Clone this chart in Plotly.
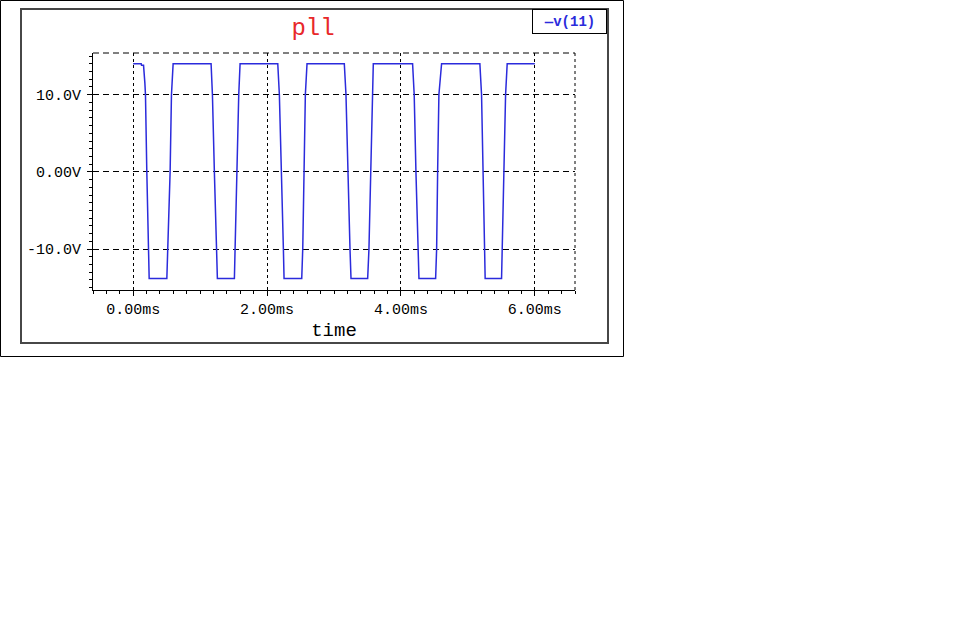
import plotly.graph_objects as go

# ---- data (time in ms, voltage in V) ----
series_name = "v(11)"
chart_title = "pll"
x_title = "time"

time_ms = [0.0, 0.12, 0.125, 0.155, 0.175, 0.184, 0.204, 0.224, 0.239,
           0.503, 0.518, 0.552, 0.572, 0.597,
           1.164, 1.184, 1.213, 1.243, 1.258,
           1.512, 1.522, 1.557, 1.577, 1.597,
           2.160, 2.184, 2.219, 2.244, 2.254,
           2.518, 2.533, 2.552, 2.572, 2.597,
           3.154, 3.179, 3.204, 3.239, 3.254,
           3.503, 3.522, 3.548, 3.567, 3.587,
           4.174, 4.198, 4.224, 4.254, 4.269,
           4.518, 4.533, 4.548, 4.567, 4.607,
           5.179, 5.204, 5.229, 5.244, 5.258,
           5.503, 5.513, 5.537, 5.563, 5.587,
           6.0]
voltage = [14.0, 14.0, 13.8, 13.8, 11.5, 10.0, 0.0, -10.0, -13.8,
           -13.8, -10.0, 0.0, 10.0, 14.0,
           14.0, 10.0, 0.0, -10.0, -13.8,
           -13.8, -10.0, 0.0, 10.0, 14.0,
           14.0, 10.0, 0.0, -10.0, -13.8,
           -13.8, -10.0, 0.0, 10.0, 14.0,
           14.0, 10.0, 0.0, -10.0, -13.8,
           -13.8, -10.0, 0.0, 10.0, 14.0,
           14.0, 10.0, 0.0, -10.0, -13.8,
           -13.8, -10.0, 0.0, 10.0, 14.0,
           14.0, 10.0, 0.0, -10.0, -13.8,
           -13.8, -10.0, 0.0, 10.0, 14.0,
           14.0]

x_tickvals = [0, 2, 4, 6]
x_ticktext = ["0.00ms", "2.00ms", "4.00ms", "6.00ms"]
y_tickvals = [-10, 0, 10]
y_ticktext = ["-10.0V", "0.00V", "10.0V"]

# ---- layout geometry (pixels) ----
W, H = 962, 629
L, R, T, B = 93, 575, 53, 290
pw, ph = R - L, B - T

def px(x):
    return (x - L) / pw

def py(y):
    return (B - y) / ph

LINE_BLUE = "#2b2bdc"
FONT = "Liberation Mono"

fig = go.Figure()
fig.add_trace(go.Scatter(x=time_ms, y=voltage, mode="lines", name=series_name,
                         line=dict(color=LINE_BLUE, width=1.5), showlegend=False))

shapes = [
    # outer border
    dict(type="rect", xref="paper", yref="paper", x0=px(0.5), x1=px(623.5), y0=py(356.5), y1=py(0.5),
         line=dict(color="black", width=1)),
    # inner frame
    dict(type="rect", xref="paper", yref="paper", x0=px(21), x1=px(608), y0=py(343), y1=py(9),
         line=dict(color="#474747", width=2)),
    # top dashed boundary
    dict(type="line", xref="paper", yref="paper", x0=0, x1=1, y0=1, y1=1,
         line=dict(color="black", width=1, dash="6px,4px")),
    # right dotted boundary
    dict(type="line", xref="paper", yref="paper", x0=1, x1=1, y0=0, y1=1,
         line=dict(color="black", width=1, dash="3px,3px")),
]

annotations = [
    dict(text="<b>—" + series_name + "</b>", xref="paper", yref="paper",
         x=px(569.5), y=py(21), xanchor="center", yanchor="middle", showarrow=False,
         font=dict(family=FONT, size=14, color=LINE_BLUE),
         bordercolor="black", borderwidth=1, bgcolor="white", width=71, height=21),
]

fig.update_layout(
    width=W, height=H,
    margin=dict(l=L, r=W - R, t=T, b=H - B, autoexpand=False),
    paper_bgcolor="white", plot_bgcolor="white",
    font=dict(family=FONT, size=15, color="black"),
    title=dict(text=chart_title, x=313 / W, y=1 - 27 / H, xanchor="center", yanchor="middle",
               font=dict(family=FONT, size=24, color="#e8282a")),
    shapes=shapes,
    annotations=annotations,
    showlegend=False,
)

fig.update_xaxes(
    range=[-0.6, 6.6], tickmode="array", tickvals=x_tickvals, ticktext=x_ticktext,
    showline=True, linecolor="black", linewidth=1, zeroline=False,
    showgrid=True, gridcolor="black", gridwidth=1, griddash="3px,3px",
    ticks="outside", ticklen=5, tickcolor="black", tickwidth=1,
    minor=dict(dtick=0.2, tick0=0, ticks="outside", ticklen=3, tickcolor="black", showgrid=False),
    tickfont=dict(family=FONT, size=15, color="black"),
    title=dict(text=x_title, font=dict(family=FONT, size=19, color="black"), standoff=4),
    automargin=False,
)
fig.update_yaxes(
    range=[-15.3, 15.4], tickmode="array", tickvals=y_tickvals, ticktext=y_ticktext,
    showline=True, linecolor="black", linewidth=1, zeroline=False,
    showgrid=True, gridcolor="black", gridwidth=1, griddash="6px,4px",
    ticks="outside", ticklen=5, tickcolor="black", tickwidth=1,
    minor=dict(dtick=1, tick0=0, ticks="outside", ticklen=3, tickcolor="black", showgrid=False),
    tickfont=dict(family=FONT, size=15, color="black"),
    ticklabelstandoff=3,
    automargin=False,
)

fig.write_html("out.html",
               config={"displayModeBar": False},
               post_script="document.body.style.margin='0';document.body.style.padding='0';")
